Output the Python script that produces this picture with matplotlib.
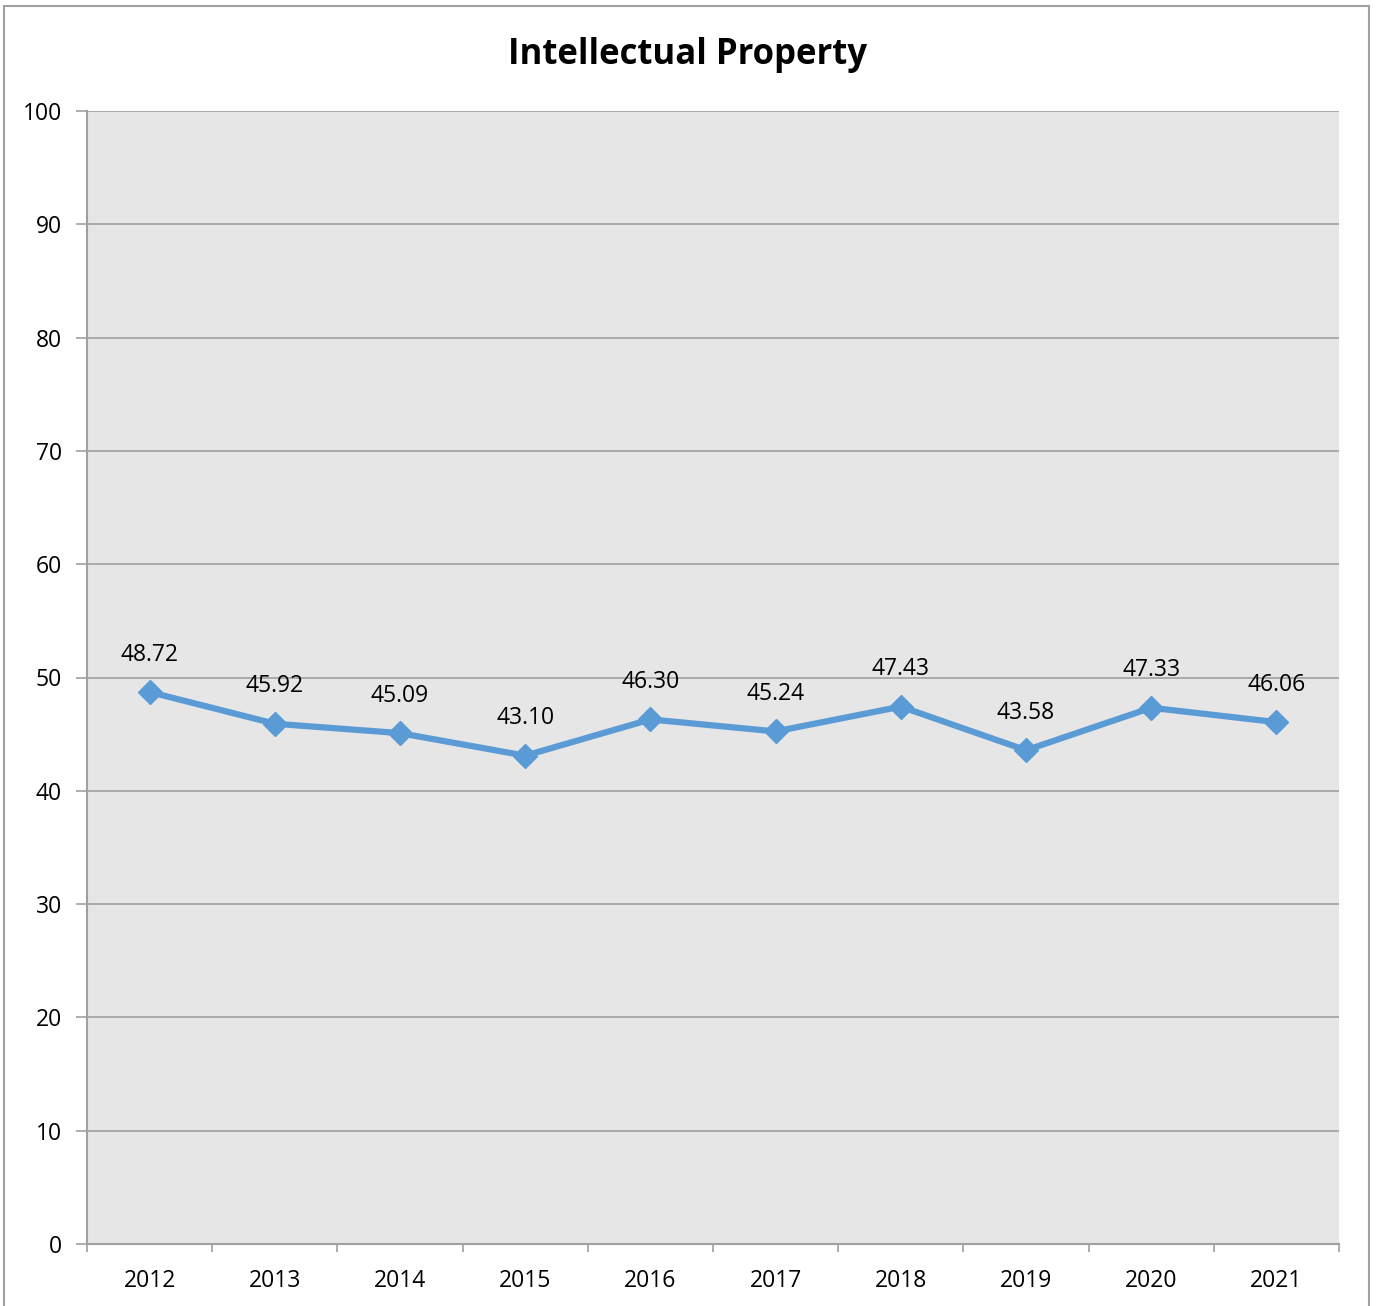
import numpy as np
import matplotlib.pyplot as plt
from matplotlib.patches import Rectangle

plt.rcParams['font.family'] = ['Open Sans', 'DejaVu Sans']

years = ['2012', '2013', '2014', '2015', '2016', '2017', '2018', '2019', '2020', '2021']
scores = [48.72, 45.92, 45.09, 43.10, 46.30, 45.24, 47.43, 43.58, 47.33, 46.06]
y_ticks = [0, 10, 20, 30, 40, 50, 60, 70, 80, 90, 100]

W, H = 1376, 1306
fig = plt.figure(figsize=(W / 100, H / 100), dpi=100)
ax = fig.add_axes([87 / W, 1 - 1244 / H, (1339 - 87) / W, (1244 - 111) / H])

# outer chart border
fig.patches.append(Rectangle((4 / W, -0.01), (1369 - 4) / W, 1 - 6 / H + 0.01,
                             transform=fig.transFigure, fill=False,
                             edgecolor='#a0a0a0', linewidth=1.5))

ax.set_facecolor('#e6e6e6')
x = np.arange(len(years))
ax.plot(x, scores, color='#5b9bd5', linewidth=4.5, marker='D', markersize=12,
        zorder=3)
for xi, v in zip(x, scores):
    ax.annotate(f'{v:.2f}', (xi, v), xytext=(0, 27), textcoords='offset points',
                ha='center', va='center', fontsize=16.5, color='black')

ax.set_xlim(-0.5, len(years) - 0.5)
ax.set_ylim(0, 100)
ax.set_yticks(y_ticks)
ax.set_xticks(x)
ax.set_xticklabels(years)
ax.set_xticks(np.arange(-0.5, len(years)), minor=True)
ax.tick_params(axis='x', which='major', length=0, pad=18, labelsize=16.5)
ax.tick_params(axis='x', which='minor', length=6, color='#a0a0a0', width=1.2,
               direction='out')
ax.tick_params(axis='y', length=8, color='#a0a0a0', width=1.2, pad=10,
               labelsize=16.5)
ax.yaxis.grid(True, color='#a0a0a0', linewidth=1.2)
ax.set_axisbelow(True)
for side in ['top', 'right']:
    ax.spines[side].set_visible(False)
for side in ['left', 'bottom']:
    ax.spines[side].set_color('#a0a0a0')
    ax.spines[side].set_linewidth(1.5)

fig.text(687 / W, 1 - 55 / H, 'Intellectual Property', ha='center', va='center',
         fontsize=25, fontweight='bold')

fig.savefig('out.png', dpi=100)
